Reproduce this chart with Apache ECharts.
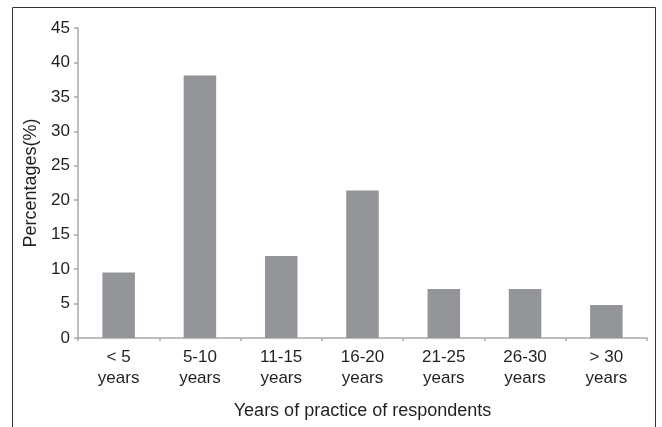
<!DOCTYPE html>
<html>
<head>
<meta charset="utf-8">
<script src="https://cdn.jsdelivr.net/npm/echarts@6/dist/echarts.min.js"></script>
<style>
html,body{margin:0;padding:0;background:#fff;}
#chart{width:662px;height:427px;}
</style>
</head>
<body>
<div id="chart"></div>
<script>
const categories = ['< 5\nyears', '5-10\nyears', '11-15\nyears', '16-20\nyears', '21-25\nyears', '26-30\nyears', '> 30\nyears'];
const percentages = [9.5, 38.1, 11.9, 21.4, 7.1, 7.1, 4.8];
const yTicks = { min: 0, max: 45, interval: 5 };
const xTitle = 'Years of practice of respondents';
const yTitle = 'Percentages(%)';

const chart = echarts.init(document.getElementById('chart'));
const textColor = '#231f20';
const axisColor = '#a7a9ac';
chart.setOption({
  animation: false,
  backgroundColor: '#fff',
  textStyle: { fontFamily: 'Liberation Sans, Arial, sans-serif' },
  graphic: [{
    type: 'rect',
    shape: { x: 12.5, y: 7.5, width: 643, height: 440 },
    style: { fill: 'none', stroke: '#333', lineWidth: 1 },
    silent: true
  }],
  grid: { left: 78, top: 28, right: 15, bottom: 89, containLabel: false, outerBoundsMode: 'none' },
  xAxis: {
    type: 'category',
    data: categories,
    name: xTitle,
    nameLocation: 'middle',
    nameGap: 64,
    nameMoveOverlap: false,
    nameTextStyle: { color: textColor, fontSize: 18, fontFamily: 'Liberation Sans' },
    axisLine: { lineStyle: { color: axisColor, width: 1.5 } },
    axisTick: { show: true, alignWithLabel: false, length: 3, lineStyle: { color: axisColor, width: 1.5 } },
    axisLabel: { color: textColor, fontSize: 17, lineHeight: 21, margin: 9, fontFamily: 'Liberation Sans', interval: 0 }
  },
  yAxis: {
    type: 'value',
    min: yTicks.min, max: yTicks.max, interval: yTicks.interval,
    name: yTitle,
    nameLocation: 'middle',
    nameGap: 38,
    nameMoveOverlap: false,
    nameRotate: 90,
    nameTextStyle: { color: textColor, fontSize: 18, fontFamily: 'Liberation Sans' },
    axisLine: { show: true, lineStyle: { color: axisColor, width: 1.5 } },
    axisTick: { show: true, length: 4, lineStyle: { color: axisColor, width: 1.5 } },
    axisLabel: { color: textColor, fontSize: 17, margin: 8, fontFamily: 'Liberation Sans' },
    splitLine: { show: false }
  },
  series: [{
    type: 'bar',
    data: percentages,
    barWidth: '40%',
    itemStyle: { color: '#939598' }
  }]
});
</script>
</body>
</html>
